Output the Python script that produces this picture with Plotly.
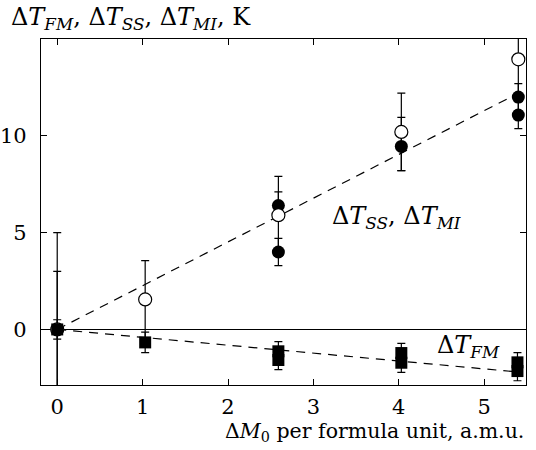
import plotly.graph_objects as go

# ---- data ----
ss_x = [0, 1.03, 2.59, 4.03, 5.40]
ss_y = [0, 1.55, 5.9, 10.2, 13.95]
ss_err = [5, 2, 2, 2, 2]

mi_x = [0, 2.59, 2.59, 4.03, 5.40, 5.40]
mi_y = [0, 6.4, 4.0, 9.45, 12.0, 11.07]
mi_err_plus = [3, 0.7, 0.7, 1.5, 0.7, 0.7]
mi_err_minus = [3, 0.7, 0.7, 1.25, 0.7, 0.7]

fm_x = [0, 1.03, 2.59, 2.59, 4.03, 4.03, 5.39, 5.39]
fm_y = [0, -0.67, -1.13, -1.58, -1.22, -1.72, -1.70, -2.15]
fm_err = [0.5, 0.53, 0.5, 0.5, 0.5, 0.5, 0.5, 0.5]

fit_x = [0, 5.4]
fit_ss = [0, 12.2]
fit_fm = [0, -2.2]

x_ticks = [0, 1, 2, 3, 4, 5]
y_ticks = [0, 5, 10]

FONT = "DejaVu Serif"
FS = 21
FS_MATH = 24

fig = go.Figure()
fig.add_trace(go.Scatter(x=fit_x, y=fit_ss, mode="lines",
                         line=dict(color="black", width=1.2, dash="9px,7px"), hoverinfo="skip"))
fig.add_trace(go.Scatter(x=fit_x, y=fit_fm, mode="lines",
                         line=dict(color="black", width=1.2, dash="9px,7px"), hoverinfo="skip"))
fig.add_trace(go.Scatter(x=mi_x, y=mi_y, mode="markers",
                         marker=dict(symbol="circle", size=13, color="black"),
                         error_y=dict(type="data", array=mi_err_plus, arrayminus=mi_err_minus,
                                      color="black", thickness=1.2, width=4)))
fig.add_trace(go.Scatter(x=ss_x, y=ss_y, mode="markers",
                         marker=dict(symbol="circle", size=13, color="white",
                                     line=dict(color="black", width=1.2)),
                         error_y=dict(type="data", array=ss_err, color="black", thickness=1.2, width=4)))
fig.add_trace(go.Scatter(x=fm_x, y=fm_y, mode="markers",
                         marker=dict(symbol="square", size=12, color="black"),
                         error_y=dict(type="data", array=fm_err, color="black", thickness=1.2, width=4)))

fig.update_layout(
    width=536, height=450,
    margin=dict(l=41, r=10, t=39, b=65),
    plot_bgcolor="white", paper_bgcolor="white",
    showlegend=False,
    font=dict(family=FONT, size=FS, color="black"),
    xaxis=dict(range=[-0.19, 5.49], tickvals=x_ticks, ticks="inside", ticklen=6,
               tickcolor="black", showline=True, linecolor="black", linewidth=1.3,
               mirror="ticks", showgrid=False, zeroline=False, ticklabelstandoff=3,
               automargin=False),
    yaxis=dict(range=[-2.87, 15.0], tickvals=y_ticks, ticks="inside", ticklen=6,
               tickcolor="black", showline=True, linecolor="black", linewidth=1.3,
               mirror="ticks", showgrid=False, zeroline=True, zerolinecolor="black",
               zerolinewidth=1.2, ticklabelstandoff=9, automargin=False),
    annotations=[
        dict(text="Δ<i>T</i><sub><i>FM</i></sub>, Δ<i>T</i><sub><i>SS</i></sub>, Δ<i>T</i><sub><i>MI</i></sub>, K",
             xref="paper", yref="paper", x=-0.066, y=1.06, xanchor="left", yanchor="middle",
             showarrow=False, font=dict(size=FS_MATH)),
        dict(text="Δ<i>M</i><sub>0</sub> per formula unit, a.m.u.",
             xref="paper", yref="paper", x=1.0, y=-0.136, xanchor="right", yanchor="middle",
             showarrow=False, font=dict(size=20.5)),
        dict(text="Δ<i>T</i><sub><i>SS</i></sub>, Δ<i>T</i><sub><i>MI</i></sub>",
             xref="x", yref="y", x=3.2, y=5.8, xanchor="left", yanchor="middle",
             showarrow=False, font=dict(size=FS_MATH)),
        dict(text="Δ<i>T</i><sub><i>FM</i></sub>",
             xref="x", yref="y", x=4.42, y=-0.9, xanchor="left", yanchor="middle",
             showarrow=False, font=dict(size=FS_MATH)),
    ],
)

fig.write_html("out.html", config={"displayModeBar": False},
               post_script="document.body.style.margin='0px';")
